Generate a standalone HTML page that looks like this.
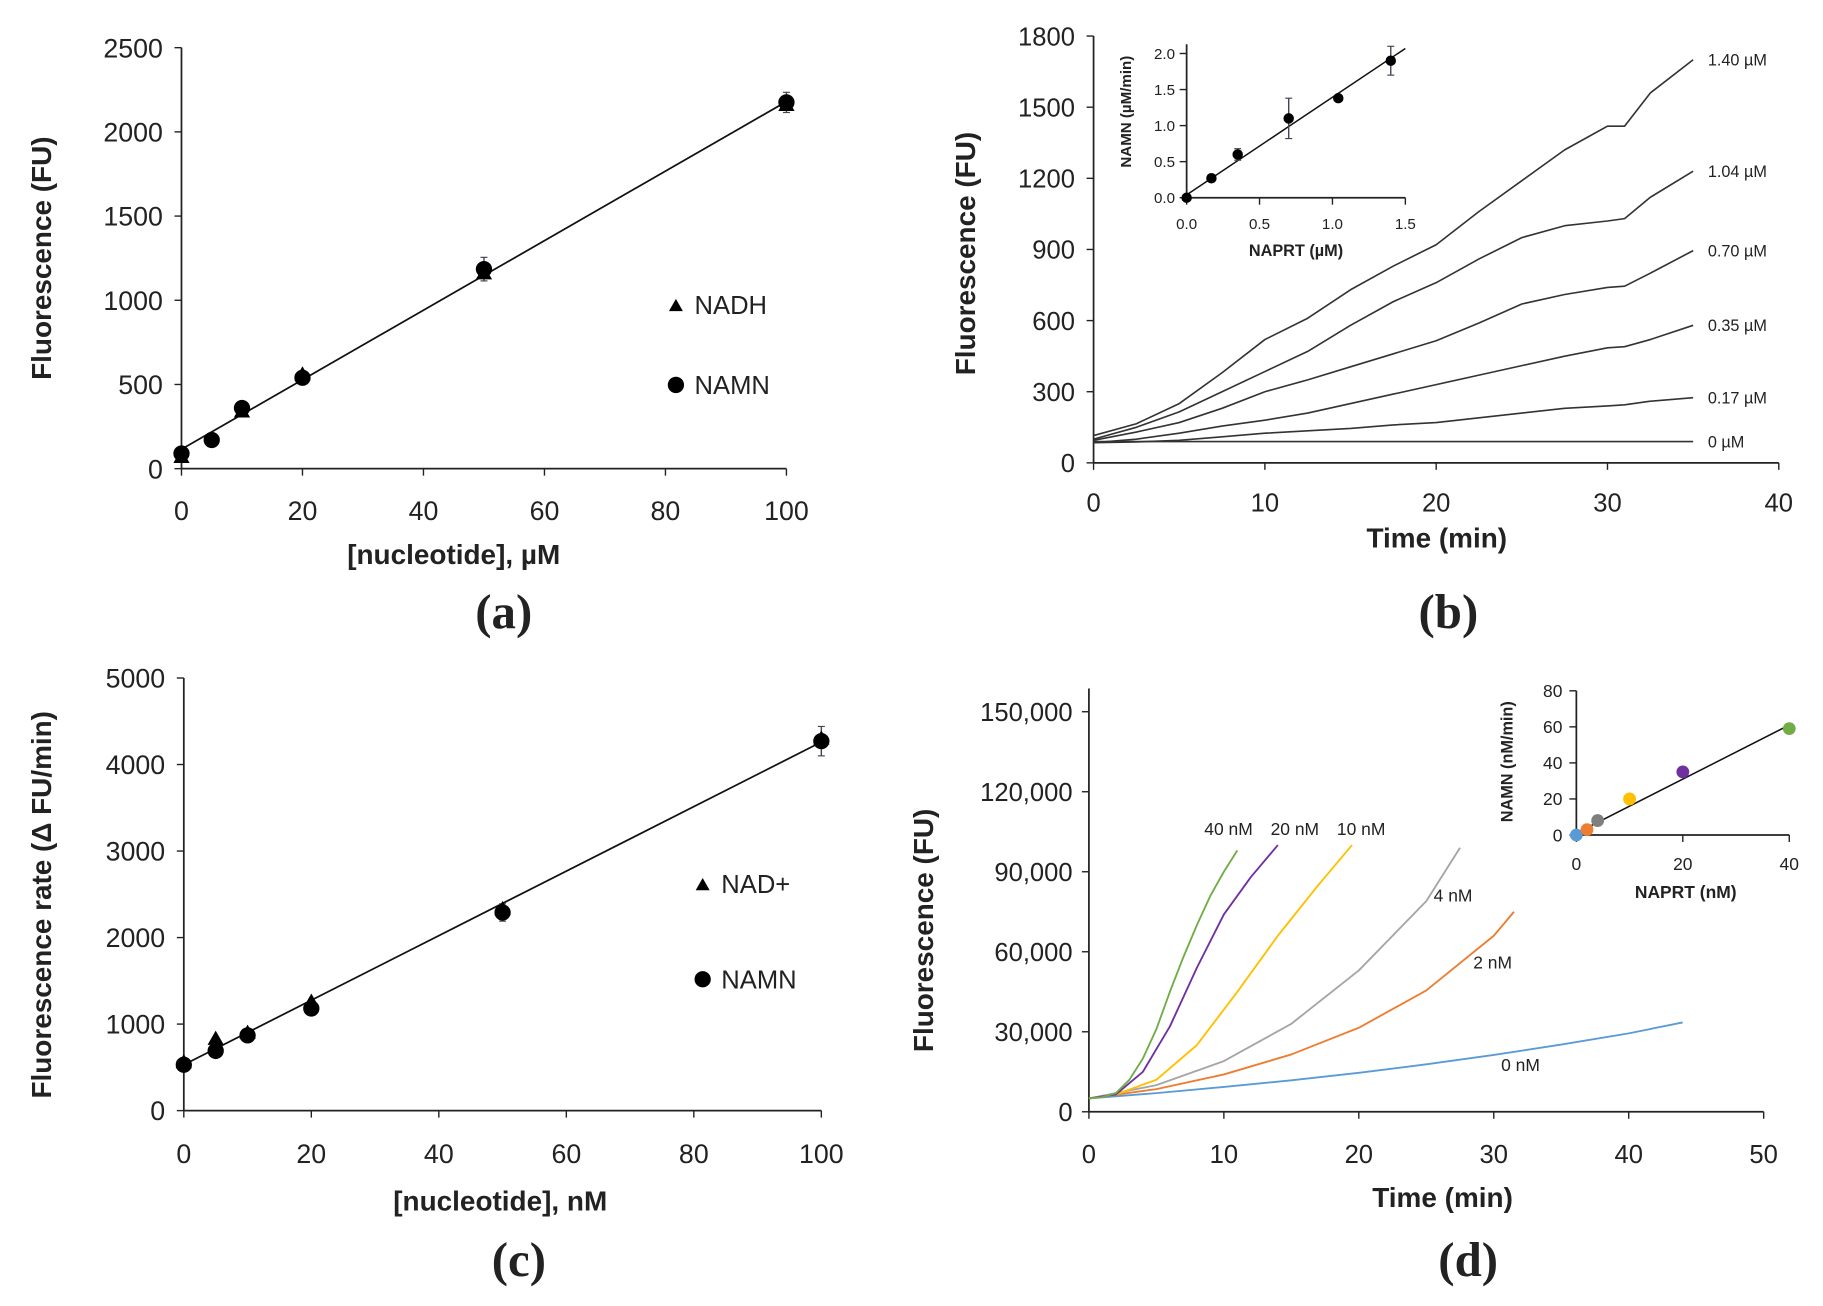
<!DOCTYPE html>
<html><head><meta charset="utf-8"><style>
html,body{margin:0;padding:0;background:#fff;}
svg{display:block;}
text{font-family:"Liberation Sans",sans-serif;fill:#222;}
text.serif{font-family:"Liberation Serif",serif;}
</style></head><body>
<svg id="fig" width="1823" height="1306" viewBox="0 0 1567 1123" preserveAspectRatio="none" xmlns="http://www.w3.org/2000/svg"></svg>
<script>
// ---- Panel (a) data ----
const aX = [0,5,10,20,50,100];
const aNAMN = [90,170,360,540,1185,2175];
const aNAMNerr = [20,15,25,30,70,60];
const aNADHx = [0,10,20,50,100];
const aNADH = [70,340,560,1160,2160];
const aFit = [115,2180];
const aYTicks = [0,500,1000,1500,2000,2500];
const aXTicks = [0,20,40,60,80,100];
// ---- Panel (b) data ----
const bT = [0,2.5,5,7.5,10,12.5,15,17.5,20,22.5,25,27.5,30,31,32.5,35];
const b140 = [115,165,250,380,520,610,730,830,920,1060,1190,1320,1420,1420,1560,1700];
const b104 = [100,150,215,300,385,470,580,680,760,860,950,1000,1020,1030,1120,1230];
const b070 = [95,130,170,230,300,350,405,460,515,590,670,710,740,745,800,895];
const b035 = [85,100,125,155,180,210,250,290,330,370,410,450,485,490,520,580];
const b017 = [85,88,95,110,125,135,145,160,170,190,210,230,240,245,260,275];
const b000 = [90,90,90,90,90,90,90,90,90,90,90,90,90,90,90,90];
const bLabels = ["1.40 µM","1.04 µM","0.70 µM","0.35 µM","0.17 µM","0 µM"];
const bYTicks = [0,300,600,900,1200,1500,1800];
const bXTicks = [0,10,20,30,40];
const biX = [0,0.17,0.35,0.7,1.04,1.4];
const biY = [0,0.27,0.6,1.1,1.38,1.9];
const biErr = [0.02,0.05,0.08,0.28,0.04,0.2];
const biFit = [0.04,2.07];
const biYTicks = [0,0.5,1.0,1.5,2.0];
const biXTicks = [0,0.5,1.0,1.5];
// ---- Panel (c) data ----
const cX = [0,5,10,20,50,100];
const cNAMN = [530,690,870,1180,2290,4270];
const cNAMNerr = [30,30,30,40,100,170];
const cNAD = [560,830,900,1260,2330,4300];
const cFit = [530,4260];
const cYTicks = [0,1000,2000,3000,4000,5000];
const cXTicks = [0,20,40,60,80,100];
// ---- Panel (d) data ----
const dT40 = [0,1,2,3,4,5,6,7,8,9,10,11];
const dY40 = [5000,5500,7000,12000,20000,31000,45000,58000,70000,81000,90000,98000];
const dT20 = [0,2,4,6,8,10,12,14];
const dY20 = [5000,6500,15000,32000,54000,74000,88000,100000];
const dT10 = [0,2,5,8,11,14,17,19.5];
const dY10 = [5000,6500,12000,25000,45000,66000,85000,100000];
const dT4 = [0,5,10,15,20,25,27.5];
const dY4 = [5000,10000,19000,33000,53000,79000,99000];
const dT2 = [0,5,10,15,20,25,30,31.5];
const dY2 = [5000,8500,14000,21500,31500,45500,66000,75000];
const dT0 = [0,5,10,15,20,25,30,35,40,44];
const dY0 = [5000,7000,9300,11800,14600,17800,21300,25200,29400,33500];
const dYTicks = [0,30000,60000,90000,120000,150000];
const dXTicks = [0,10,20,30,40,50];
const diX = [0,2,4,10,20,40];
const diY = [0,3,8,20,35,59];
const diFit = [1,61];
const diYTicks = [0,20,40,60,80];
const diXTicks = [0,20,40];

const NS="http://www.w3.org/2000/svg";
const svg=document.getElementById('fig');
function el(tag,attrs,parent,txt){const e=document.createElementNS(NS,tag);for(const k in attrs)e.setAttribute(k,attrs[k]);if(txt!==undefined)e.textContent=txt;(parent||svg).appendChild(e);return e;}
function lin(d0,d1,r0,r1){return v=>r0+(v-d0)/(d1-d0)*(r1-r0);}
function fmt(v){return v>=10000?v.toLocaleString('en-US'):String(v);}
function axes(g,X,Y,xt,yt,x0,x1,y0,y1,fs,dec,xoff,ygap){
  el('line',{x1:x0,y1:y0,x2:x0,y2:y1,stroke:'#222','stroke-width':1.5},g);
  el('line',{x1:x0,y1:y0,x2:x1,y2:y0,stroke:'#222','stroke-width':1.5},g);
  yt.forEach(v=>{const y=Y(v);el('line',{x1:x0-6,y1:y,x2:x0,y2:y,stroke:'#222','stroke-width':1.2},g);
    const t=el('text',{x:x0-ygap,y:y+fs*0.36,'font-size':fs,'text-anchor':'end'},g,dec?v.toFixed(dec):fmt(v));
    });
  xt.forEach(v=>{const x=X(v);el('line',{x1:x,y1:y0,x2:x,y2:y0+6,stroke:'#222','stroke-width':1.2},g);
    const t=el('text',{x:x,y:y0+xoff,'font-size':fs,'text-anchor':'middle'},g,dec?v.toFixed(dec):fmt(v));
    });
}
function label(g,x,y,txt,fs,rot,name,cls){const a={x:x,y:y,'font-size':fs,'font-weight':'bold','text-anchor':'middle'};if(rot)a.transform='rotate(-90 '+x+' '+y+')';if(cls)a['class']=cls;const t=el('text',a,g,txt);return t;}
function tri(g,x,y,s){return el('path',{d:`M${x} ${y-s} L${x+s} ${y+s*0.75} L${x-s} ${y+s*0.75}Z`,fill:'#000'},g);}
function line(g,xs,ys,X,Y,color,w){return el('polyline',{points:xs.map((v,i)=>X(v)+','+Y(ys[i])).join(' '),fill:'none',stroke:color,'stroke-width':w||1.5,'stroke-linejoin':'round'},g);}
function errbar(g,x,y1,y2){el('line',{x1:x,y1:y1,x2:x,y2:y2,stroke:'#445','stroke-width':1.2},g);el('line',{x1:x-3,y1:y1,x2:x+3,y2:y1,stroke:'#445'},g);el('line',{x1:x-3,y1:y2,x2:x+3,y2:y2,stroke:'#445'},g);}

// ===== Panel a =====
(function(){
 const g=el('g',{});
 const X=lin(0,100,156,676),Y=lin(0,2500,403,41);
 axes(g,X,Y,aXTicks,aYTicks,156,676,403,41,23,0,44,16);
 label(g,44,222,'Fluorescence (FU)',24,true,'y-axis-title');
 label(g,390,485,'[nucleotide],  µM',24,false,'x-axis-title');
 label(g,433,540,'(a)',42,false,'panel-label-a','serif');
 el('line',{x1:X(0),y1:Y(aFit[0]),x2:X(100),y2:Y(aFit[1]),stroke:'#111','stroke-width':1.5},g);
 aX.forEach((v,i)=>{errbar(g,X(v),Y(aNAMN[i]+aNAMNerr[i]),Y(aNAMN[i]-aNAMNerr[i]));});
 aNADHx.forEach((v,i)=>{const p=tri(g,X(v),Y(aNADH[i]),7);});
 aX.forEach((v,i)=>{const c=el('circle',{cx:X(v),cy:Y(aNAMN[i]),r:7,fill:'#000'},g);});
 tri(g,581,263,6);const t1=el('text',{x:597,y:270,'font-size':22},g,'NADH');
 el('circle',{cx:581,cy:331,r:7,fill:'#000'},g);const t2=el('text',{x:597,y:339,'font-size':22},g,'NAMN');
})();

// ===== Panel b =====
(function(){
 const g=el('g',{});
 const X=lin(0,40,940,1529),Y=lin(0,1800,398,31);
 axes(g,X,Y,bXTicks,bYTicks,940,1529,398,31,22,0,42,16);
 label(g,838,218,'Fluorescence (FU)',24,true,'y-axis-title');
 label(g,1235,471,'Time (min)',24,false,'x-axis-title');
 label(g,1245,540,'(b)',42,false,'panel-label-b','serif');
 const series=[b140,b104,b070,b035,b017,b000];
 series.forEach((s,i)=>{const p=line(g,bT,s,X,Y,'#333',1.4);
   const t=el('text',{x:1468,y:Y(s[s.length-1])+5,'font-size':14},g,bLabels[i]);});
 const IX=lin(0,1.5,1020,1208),IY=lin(0,2.0,170,46);
 axes(g,IX,IY,biXTicks,biYTicks,1020,1208,170,38,13,1,27,10);
 label(g,972,96,'NAMN (µM/min)',13,true,'inset-y-axis-title');
 label(g,1114,220,'NAPRT (µM)',14,false,'inset-x-axis-title');
 el('line',{x1:IX(0),y1:IY(biFit[0]),x2:IX(1.5),y2:IY(biFit[1]),stroke:'#111','stroke-width':1.3},g);
 biX.forEach((v,i)=>{errbar(g,IX(v),IY(biY[i]+biErr[i]),IY(biY[i]-biErr[i]));const c=el('circle',{cx:IX(v),cy:IY(biY[i]),r:4.5,fill:'#000'},g);});
})();

// ===== Panel c =====
(function(){
 const g=el('g',{});
 const X=lin(0,100,158,706),Y=lin(0,5000,955,583);
 axes(g,X,Y,cXTicks,cYTicks,158,706,955,583,23,0,45,16);
 label(g,44,778,'Fluorescence rate (Δ FU/min)',24,true,'y-axis-title');
 label(g,430,1041,'[nucleotide],  nM',24,false,'x-axis-title');
 label(g,446,1097,'(c)',42,false,'panel-label-c','serif');
 el('line',{x1:X(0),y1:Y(cFit[0]),x2:X(100),y2:Y(cFit[1]),stroke:'#111','stroke-width':1.5},g);
 cX.forEach((v,i)=>{errbar(g,X(v),Y(cNAMN[i]+cNAMNerr[i]),Y(cNAMN[i]-cNAMNerr[i]));});
 cX.forEach((v,i)=>{const p=tri(g,X(v),Y(cNAD[i]),7);});
 cX.forEach((v,i)=>{const c=el('circle',{cx:X(v),cy:Y(cNAMN[i]),r:7,fill:'#000'},g);});
 tri(g,604,761,6);const t1=el('text',{x:620,y:768,'font-size':22},g,'NAD+');
 el('circle',{cx:604,cy:842,r:7,fill:'#000'},g);const t2=el('text',{x:620,y:850,'font-size':22},g,'NAMN');
})();

// ===== Panel d =====
(function(){
 const g=el('g',{});
 const X=lin(0,50,936,1516),Y=lin(0,150000,956,612);
 axes(g,X,Y,dXTicks,dYTicks,936,1516,956,592,22,0,44,14);
 label(g,802,800,'Fluorescence (FU)',24,true,'y-axis-title');
 label(g,1240,1038,'Time (min)',24,false,'x-axis-title');
 label(g,1262,1097,'(d)',42,false,'panel-label-d','serif');
 const S=[[dT0,dY0,'#5b9bd5','0 nM',1307,921],[dT2,dY2,'#ed7d31','2 nM',1283,833],[dT4,dY4,'#a5a5a5','4 nM',1249,775],[dT10,dY10,'#ffc000','10 nM',1170,718],[dT20,dY20,'#7030a0','20 nM',1113,718],[dT40,dY40,'#70ad47','40 nM',1056,718]];
 S.forEach(s=>{const p=line(g,s[0],s[1],X,Y,s[2],1.6);
   const t=el('text',{x:s[4],y:s[5],'font-size':15,'text-anchor':'middle'},g,s[3]);});
 const IX=lin(0,40,1355,1538),IY=lin(0,80,718,594);
 axes(g,IX,IY,diXTicks,diYTicks,1355,1538,718,594,15,0,30,12);
 label(g,1300,655,'NAMN (nM/min)',14,true,'inset-y-axis-title');
 label(g,1449,772,'NAPRT (nM)',15,false,'inset-x-axis-title');
 el('line',{x1:IX(0),y1:IY(diFit[0]),x2:IX(40),y2:IY(diFit[1]),stroke:'#111','stroke-width':1.3},g);
 const cols=['#5b9bd5','#ed7d31','#7f7f7f','#ffc000','#7030a0','#70ad47'];
 diX.forEach((v,i)=>{const c=el('circle',{cx:IX(v),cy:IY(diY[i]),r:5.5,fill:cols[i]},g);});
})();
</script>
</body></html>
